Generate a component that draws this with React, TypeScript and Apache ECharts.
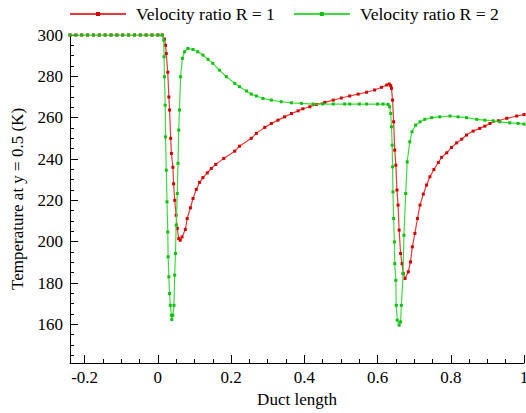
import React, { useEffect, useRef } from "react";
import * as echarts from "echarts";

const seriesNames = ["Velocity ratio R = 1", "Velocity ratio R = 2"];

const flatX = [-0.24, -0.224, -0.208, -0.192, -0.176, -0.16, -0.144, -0.128, -0.112, -0.096, -0.08, -0.064, -0.048, -0.032, -0.016, 0, 0.012];

const redX = [0.018, 0.021, 0.023, 0.027, 0.03, 0.032, 0.035, 0.037, 0.041, 0.043, 0.046, 0.05, 0.053, 0.057, 0.061, 0.066, 0.075, 0.08, 0.089, 0.096, 0.105, 0.114, 0.123, 0.135, 0.146, 0.158, 0.18, 0.21, 0.223, 0.255, 0.269, 0.292, 0.31, 0.328, 0.346, 0.365, 0.383, 0.396, 0.415, 0.433, 0.456, 0.479, 0.501, 0.524, 0.547, 0.57, 0.592, 0.611, 0.625, 0.632, 0.636, 0.638, 0.641, 0.644, 0.647, 0.65, 0.653, 0.656, 0.659, 0.663, 0.667, 0.67, 0.675, 0.684, 0.69, 0.695, 0.702, 0.709, 0.716, 0.725, 0.734, 0.743, 0.754, 0.766, 0.775, 0.789, 0.802, 0.816, 0.83, 0.843, 0.861, 0.879, 0.893, 0.907, 0.93, 0.953, 0.98, 1.0];
const redY = [298, 295, 291, 282, 270, 263.7, 250, 242.7, 236, 228, 220, 212.8, 206.4, 201.5, 200.7, 202.3, 205.9, 211.2, 216.4, 220.9, 225.3, 228.7, 231, 233.3, 235.4, 237.4, 240.3, 243.8, 246.2, 250, 252.4, 255.3, 257.2, 258.8, 260.4, 262, 263.3, 264.3, 265.3, 266.4, 267.4, 268.5, 269.5, 270.5, 271.4, 272.3, 273.4, 274.7, 275.8, 276.3, 275.5, 274.2, 268.5, 258, 244.3, 237, 225, 217.7, 205.6, 194.3, 189.4, 184.6, 182.2, 185.4, 190.2, 197.5, 204, 211.2, 217.7, 223, 227.4, 231.4, 234.9, 238.3, 240.8, 243, 245.6, 247.8, 249.6, 251.6, 253.5, 254.8, 255.9, 257.2, 258.5, 259.7, 260.8, 261.5];

const greenX = [0.016, 0.017, 0.018, 0.02, 0.021, 0.023, 0.025, 0.027, 0.028, 0.03, 0.032, 0.034, 0.037, 0.038, 0.041, 0.044, 0.046, 0.048, 0.05, 0.053, 0.055, 0.057, 0.059, 0.062, 0.067, 0.073, 0.082, 0.096, 0.109, 0.123, 0.137, 0.15, 0.168, 0.187, 0.21, 0.223, 0.242, 0.255, 0.269, 0.287, 0.31, 0.337, 0.365, 0.392, 0.424, 0.45, 0.479, 0.51, 0.524, 0.55, 0.57, 0.6, 0.615, 0.629, 0.633, 0.636, 0.638, 0.64, 0.641, 0.642, 0.644, 0.646, 0.647, 0.65, 0.651, 0.654, 0.659, 0.663, 0.665, 0.67, 0.672, 0.677, 0.681, 0.688, 0.694, 0.704, 0.716, 0.729, 0.748, 0.77, 0.798, 0.82, 0.843, 0.871, 0.893, 0.916, 0.934, 0.961, 0.984, 1.0];
const greenY = [297.6, 289.5, 279.8, 266, 250.7, 234.6, 219.3, 204.7, 192.7, 183, 174.9, 169.2, 164.4, 162.3, 164.4, 169.2, 183.8, 194.3, 208, 223.3, 237.9, 254, 263.7, 279.8, 288.7, 291.9, 293.5, 293, 291.9, 290.3, 288.2, 286.3, 283, 279.8, 276.6, 275, 272.9, 271.4, 270.5, 269.3, 268.5, 267.7, 267.2, 266.9, 266.6, 266.6, 266.6, 266.6, 266.6, 266.6, 266.6, 266.6, 266.6, 266.4, 265.3, 262, 255.6, 246.7, 236.2, 224.1, 211.2, 199.9, 189.4, 181.3, 169.2, 162, 159.6, 161.2, 169.2, 184.6, 203.1, 223.3, 238.6, 248.3, 253.2, 256.4, 258, 259.2, 260, 260.4, 260.8, 260.4, 260, 259.2, 258.8, 258.5, 258, 257.5, 257.2, 256.9];

const xLabelValues = [-0.2, 0, 0.2, 0.4, 0.6, 0.8, 1];
const xMinorTicks = [-0.2, -0.15, -0.1, -0.05, 0, 0.05, 0.1, 0.15, 0.2, 0.25, 0.3, 0.35, 0.4, 0.45, 0.5, 0.55, 0.6, 0.65, 0.7, 0.75, 0.8, 0.85, 0.9, 0.95, 1];
const yLabelValues = [160, 180, 200, 220, 240, 260, 280, 300];
const yMinorTicks = [145, 150, 155, 160, 165, 170, 175, 180, 185, 190, 195, 200, 205, 210, 215, 220, 225, 230, 235, 240, 245, 250, 255, 260, 265, 270, 275, 280, 285, 290, 295, 300];

const FONT = "'Liberation Serif', 'Times New Roman', serif";
const RED_LINE = "#e83838";
const RED_MARK = "#d00000";
const GREEN_LINE = "#3ddc3d";
const GREEN_MARK = "#10c010";

export default function App() {
  const ref = useRef<HTMLDivElement>(null);
  useEffect(() => {
    if (!ref.current) return;
    const chart = echarts.init(ref.current, null, { renderer: "svg" });
    const red = [...flatX.map((x) => [x, 300]), ...redX.map((x, i) => [x, redY[i]])];
    const green = [...flatX.map((x) => [x, 300]), ...greenX.map((x, i) => [x, greenY[i]])];
    const XMIN = -0.24, XMAX = 1, YMIN = 141.3, YMAX = 300;
    const axisLine = { show: true, onZero: false, lineStyle: { color: "#000", width: 1 } };
    const hiddenLine = { show: false, onZero: false };
    chart.setOption({
      animation: false,
      backgroundColor: "#fff",
      textStyle: { fontFamily: FONT },
      grid: { left: 70, right: 2, top: 35, bottom: 50, containLabel: false, outerBoundsMode: "none" },
      legend: {
        left: 69,
        top: 5,
        padding: 0,
        itemWidth: 56,
        itemHeight: 5,
        itemGap: 18,
        textStyle: { fontFamily: FONT, fontSize: 17.6, color: "#000", padding: [0, 0, 0, 5] },
        data: seriesNames,
      },
      xAxis: [
        {
          type: "value",
          min: XMIN,
          max: XMAX,
          name: "Duct length",
          nameLocation: "middle",
          nameGap: 27,
          nameTextStyle: { fontFamily: FONT, fontSize: 17, color: "#000" },
          axisLine,
          splitLine: { show: false },
          axisTick: { show: true, inside: true, length: 4, customValues: xMinorTicks, lineStyle: { color: "#000" } },
          axisLabel: {
            show: true,
            customValues: xLabelValues,
            fontFamily: FONT,
            fontSize: 17,
            color: "#000",
            margin: 6,
            formatter: (v: number) => String(v),
          },
        },
        {
          type: "value",
          min: XMIN,
          max: XMAX,
          position: "bottom",
          offset: 0,
          axisLine: hiddenLine,
          splitLine: { show: false },
          axisTick: { show: true, inside: true, length: 8, customValues: xLabelValues, lineStyle: { color: "#000" } },
          axisLabel: { show: false },
        },
      ],
      yAxis: [
        {
          type: "value",
          min: YMIN,
          max: YMAX,
          name: "Temperature at y = 0.5 (K)",
          nameLocation: "middle",
          nameGap: 44,
          nameTextStyle: { fontFamily: FONT, fontSize: 17, color: "#000" },
          axisLine,
          splitLine: { show: false },
          axisTick: { show: true, inside: true, length: 4, customValues: yMinorTicks, lineStyle: { color: "#000" } },
          axisLabel: {
            show: true,
            customValues: yLabelValues,
            fontFamily: FONT,
            fontSize: 17,
            color: "#000",
            margin: 7,
          },
        },
        {
          type: "value",
          min: YMIN,
          max: YMAX,
          position: "left",
          offset: 0,
          axisLine: hiddenLine,
          splitLine: { show: false },
          axisTick: { show: true, inside: true, length: 8, customValues: yLabelValues, lineStyle: { color: "#000" } },
          axisLabel: { show: false },
        },
      ],
      series: [
        {
          name: seriesNames[0],
          type: "line",
          xAxisIndex: 0,
          yAxisIndex: 0,
          data: red,
          symbol: "rect",
          symbolSize: 3,
          showSymbol: true,
          clip: true,
          lineStyle: { color: RED_LINE, width: 1.2 },
          itemStyle: { color: RED_MARK },
          z: 2,
        },
        {
          name: seriesNames[1],
          type: "line",
          xAxisIndex: 0,
          yAxisIndex: 0,
          data: green,
          symbol: "rect",
          symbolSize: 3,
          showSymbol: true,
          clip: true,
          lineStyle: { color: GREEN_LINE, width: 1.2 },
          itemStyle: { color: GREEN_MARK },
          z: 3,
        },
      ],
    });
    return () => chart.dispose();
  }, []);
  return <div ref={ref} style={{ position: "fixed", left: 0, top: 0, width: 526, height: 413 }} />;
}
